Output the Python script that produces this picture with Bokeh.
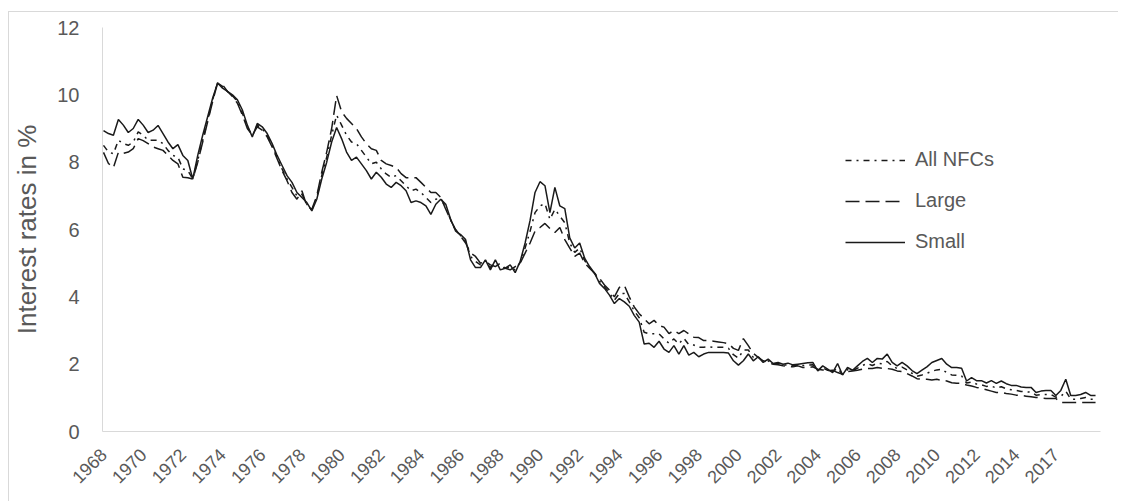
import math
from bokeh.plotting import figure
from bokeh.models import FixedTicker, Range1d, Legend, LegendItem, ColumnDataSource
from bokeh.embed import file_html
from bokeh.resources import INLINE

# ---- data (quarterly, 1968Q1 onwards) ----
tick_years = ["1968", "1970", "1972", "1974", "1976", "1978", "1980", "1982", "1984",
              "1986", "1988", "1990", "1992", "1994", "1996", "1998", "2000", "2002",
              "2004", "2006", "2008", "2010", "2012", "2014", "2017"]
tick_quarters = [0, 8, 16, 24, 32, 40, 48, 56, 64, 72, 80, 88, 96, 104, 112, 120,
                 128, 136, 144, 152, 160, 168, 176, 184, 192]

all_nfcs = [
    8.50, 8.30, 8.25, 8.65, 8.55, 8.50, 8.60, 8.90, 8.80, 8.65,
    8.65, 8.65, 8.55, 8.35, 8.20, 8.15, 7.80, 7.75, 7.50, 8.05,
    8.65, 9.25, 9.85, 10.35, 10.25, 10.10, 9.97, 9.80, 9.45, 9.05,
    8.78, 9.10, 9.00, 8.80, 8.50, 8.15, 7.80, 7.50, 7.25, 7.00,
    7.05, 6.75, 6.58, 6.95, 7.60, 8.15, 8.80, 9.40, 9.10, 8.80,
    8.60, 8.55, 8.35, 8.15, 7.95, 8.00, 7.80, 7.65, 7.55, 7.60,
    7.45, 7.30, 7.15, 7.20, 7.10, 6.95, 6.80, 6.90, 6.92, 6.65,
    6.28, 5.97, 5.82, 5.65, 5.20, 5.05, 4.95, 5.07, 4.87, 5.00,
    4.90, 4.85, 4.88, 4.80, 5.02, 5.45, 5.95, 6.50, 6.70, 6.77,
    6.30, 6.60, 6.40, 6.20, 5.60, 5.32, 5.45, 5.08, 4.87, 4.70,
    4.47, 4.30, 4.12, 3.90, 4.10, 4.10, 3.85, 3.58, 3.38, 2.95,
    2.90, 2.90, 2.90, 2.75, 2.62, 2.75, 2.60, 2.77, 2.58, 2.57,
    2.50, 2.50, 2.52, 2.50, 2.50, 2.50, 2.47, 2.28, 2.18, 2.42,
    2.42, 2.20, 2.21, 2.07, 2.10, 2.01, 2.02, 1.97, 1.98, 1.95,
    1.97, 1.96, 1.97, 1.98, 1.82, 1.89, 1.82, 1.78, 1.88, 1.69,
    1.84, 1.81, 1.88, 1.96, 2.02, 1.96, 2.03, 2.01, 2.08, 1.95,
    1.87, 1.91, 1.83, 1.73, 1.64, 1.68, 1.73, 1.79, 1.83, 1.85,
    1.75, 1.68, 1.67, 1.65, 1.44, 1.47, 1.41, 1.39, 1.34, 1.35,
    1.29, 1.33, 1.27, 1.24, 1.22, 1.19, 1.18, 1.17, 1.08, 1.10,
    1.10, 1.10, 1.02, 1.04, 1.20, 0.96, 0.96, 0.98, 1.01, 0.96,
    0.96,
]

large = [
    8.29, 7.96, 7.84, 8.29, 8.26, 8.30, 8.40, 8.70, 8.64, 8.55,
    8.45, 8.40, 8.35, 8.20, 8.05, 7.95, 7.55, 7.54, 7.50, 8.00,
    8.60, 9.20, 9.80, 10.35, 10.30, 10.10, 9.95, 9.75, 9.40, 9.00,
    8.80, 9.05, 8.95, 8.75, 8.45, 8.10, 7.75, 7.45, 7.10, 6.90,
    7.15, 6.70, 6.60, 7.00, 7.70, 8.30, 9.00, 9.98, 9.50, 9.30,
    9.15, 9.00, 8.75, 8.55, 8.40, 8.35, 8.05, 7.95, 7.90, 7.85,
    7.66, 7.54, 7.54, 7.54, 7.40, 7.25, 7.10, 7.10, 6.95, 6.60,
    6.27, 6.00, 5.80, 5.60, 5.30, 5.20, 5.00, 5.05, 4.95, 4.90,
    5.00, 4.85, 4.80, 4.90, 5.00, 5.30, 5.60, 5.95, 6.06, 6.18,
    6.03, 5.91, 6.06, 5.70, 5.45, 5.20, 5.30, 5.00, 4.85, 4.70,
    4.55, 4.35, 4.20, 4.00, 4.28, 4.34, 4.00, 3.70, 3.50, 3.35,
    3.20, 3.30, 3.15, 3.10, 2.91, 3.00, 2.91, 3.00, 2.90, 2.80,
    2.79, 2.70, 2.70, 2.68, 2.66, 2.64, 2.61, 2.47, 2.41, 2.76,
    2.55, 2.32, 2.20, 2.10, 2.05, 2.00, 1.98, 1.95, 1.93, 1.92,
    1.95, 1.90, 1.90, 1.92, 1.85, 1.83, 1.80, 1.82, 1.75, 1.70,
    1.78, 1.80, 1.82, 1.85, 1.87, 1.87, 1.90, 1.88, 1.87, 1.85,
    1.80, 1.78, 1.72, 1.65, 1.57, 1.55, 1.55, 1.53, 1.55, 1.52,
    1.50, 1.45, 1.43, 1.43, 1.38, 1.35, 1.31, 1.28, 1.24, 1.20,
    1.16, 1.16, 1.13, 1.11, 1.08, 1.07, 1.05, 1.03, 1.01, 1.00,
    0.98, 0.98, 0.98, 0.86, 0.86, 0.86, 0.86, 0.86, 0.86, 0.86,
    0.86,
]

small = [
    8.94, 8.85, 8.80, 9.27, 9.10, 8.88, 9.00, 9.27, 9.10, 8.88,
    8.95, 9.09, 8.85, 8.60, 8.40, 8.52, 8.20, 8.05, 7.50, 8.20,
    8.80, 9.35, 9.90, 10.35, 10.20, 10.10, 10.00, 9.85, 9.55, 9.10,
    8.75, 9.15, 9.05, 8.85, 8.55, 8.20, 7.90, 7.60, 7.40, 7.10,
    6.95, 6.80, 6.55, 6.90, 7.50, 8.00, 8.60, 9.03, 8.70, 8.30,
    8.05, 8.15, 7.95, 7.75, 7.50, 7.70, 7.55, 7.35, 7.25, 7.40,
    7.30, 7.15, 6.80, 6.85, 6.80, 6.70, 6.45, 6.75, 6.90, 6.75,
    6.30, 5.95, 5.85, 5.70, 5.10, 4.87, 4.87, 5.10, 4.80, 5.10,
    4.80, 4.85, 4.95, 4.72, 5.05, 5.60, 6.27, 7.10, 7.42, 7.30,
    6.50, 7.25, 6.70, 6.62, 5.75, 5.45, 5.60, 5.15, 4.90, 4.70,
    4.40, 4.25, 4.05, 3.80, 3.95, 3.85, 3.72, 3.45, 3.25, 2.60,
    2.62, 2.50, 2.68, 2.45, 2.35, 2.55, 2.30, 2.55, 2.27, 2.35,
    2.22, 2.30, 2.35, 2.35, 2.35, 2.35, 2.33, 2.10, 1.97, 2.10,
    2.30, 2.10, 2.22, 2.05, 2.15, 2.02, 2.05, 2.00, 2.03, 1.98,
    2.00, 2.02, 2.04, 2.05, 1.80, 1.95, 1.85, 1.75, 2.02, 1.68,
    1.90, 1.82, 1.95, 2.08, 2.17, 2.05, 2.17, 2.15, 2.30, 2.05,
    1.95, 2.05, 1.95, 1.81, 1.72, 1.82, 1.92, 2.05, 2.11, 2.17,
    2.00, 1.90, 1.90, 1.88, 1.50, 1.60, 1.51, 1.51, 1.44, 1.51,
    1.43, 1.50, 1.42, 1.37, 1.37, 1.32, 1.31, 1.31, 1.16, 1.20,
    1.22, 1.22, 1.07, 1.22, 1.55, 1.07, 1.07, 1.10, 1.16, 1.07,
    1.07,
]

y_ticks = [0, 2, 4, 6, 8, 10, 12]

quarters = list(range(len(small)))
src = ColumnDataSource(dict(q=quarters, all_nfcs=all_nfcs, large=large, small=small))

FONT = "Liberation Sans"
TXT = "#595959"
AXIS = "#d9d9d9"

p = figure(width=1110, height=490, output_backend="svg", toolbar_location=None,
           x_range=Range1d(-0.2, 201), y_range=Range1d(0, 12),
           min_border_left=93, min_border_right=19, min_border_top=15,
           min_border_bottom=71)
p.styles = {"border-left": "1px solid #d9d9d9", "border-top": "1px solid #d9d9d9",
            "margin-left": "8px", "margin-top": "11px"}
p.outline_line_color = None
p.xgrid.visible = False
p.ygrid.visible = False

r_all = p.line("q", "all_nfcs", source=src, line_color="#1a1a1a", line_width=1.5,
               line_dash="6 5 2 5")
r_large = p.line("q", "large", source=src, line_color="#1a1a1a", line_width=1.5,
                 line_dash="14 6")
r_small = p.line("q", "small", source=src, line_color="#1a1a1a", line_width=1.5)

# y axis
p.yaxis.ticker = FixedTicker(ticks=y_ticks)
p.yaxis.axis_line_color = AXIS
p.yaxis.major_tick_line_color = None
p.yaxis.minor_tick_line_color = None
p.yaxis.major_label_standoff = 17
p.yaxis.major_label_text_font = FONT
p.yaxis.major_label_text_font_size = "20px"
p.yaxis.major_label_text_color = TXT
p.yaxis.axis_label = "Interest rates in %"
p.yaxis.axis_label_text_font = FONT
p.yaxis.axis_label_text_font_size = "26px"
p.yaxis.axis_label_text_font_style = "normal"
p.yaxis.axis_label_text_color = TXT
p.yaxis.axis_label_standoff = 12

# x axis
p.xaxis.ticker = FixedTicker(ticks=tick_quarters)
p.xaxis.major_label_overrides = {q: y for q, y in zip(tick_quarters, tick_years)}
p.xaxis.major_label_orientation = math.pi / 4
p.xaxis.axis_line_color = AXIS
p.xaxis.major_tick_line_color = None
p.xaxis.minor_tick_line_color = None
p.xaxis.major_label_standoff = 14
p.xaxis.major_label_text_font = FONT
p.xaxis.major_label_text_font_size = "18px"
p.xaxis.major_label_text_color = TXT

legend = Legend(items=[LegendItem(label="All NFCs", renderers=[r_all]),
                       LegendItem(label="Large", renderers=[r_large]),
                       LegendItem(label="Small", renderers=[r_small])],
                location=(743, 178))
legend.label_text_font = FONT
legend.label_text_font_size = "20px"
legend.label_text_color = TXT
legend.glyph_width = 60
legend.glyph_height = 20
legend.label_height = 20
legend.label_standoff = 10
legend.spacing = 18
legend.padding = 0
legend.margin = 0
legend.border_line_color = None
legend.background_fill_alpha = 0
p.add_layout(legend)

open("out.html", "w").write(file_html(p, INLINE))
